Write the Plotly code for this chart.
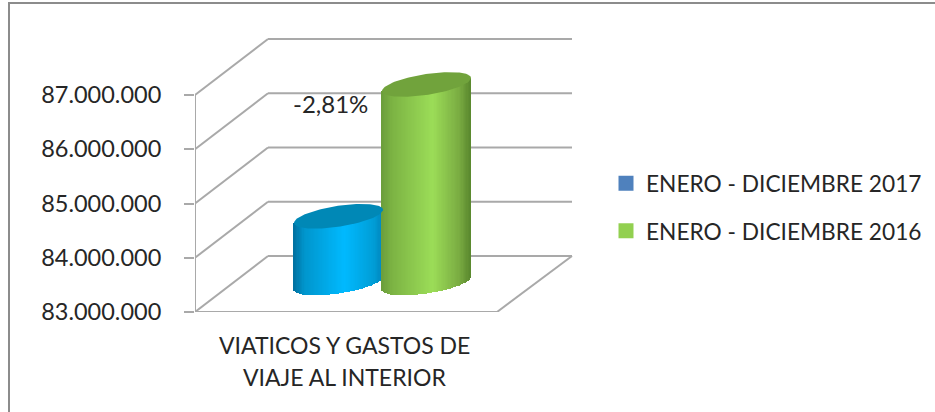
import numpy as np
import plotly.graph_objects as go

# ---------- data ----------
series_names = ["ENERO - DICIEMBRE 2017", "ENERO - DICIEMBRE 2016"]
series_values = [84230000, 86660000]
tick_values = [83000000, 84000000, 85000000, 86000000, 87000000]
category_lines = ["VIATICOS Y GASTOS DE", "VIAJE AL INTERIOR"]
change_label = "-2,81%"

# ---------- geometry / style ----------
W, H = 935, 412
AX_L, AX_R = 195, 575        # plot domain, px
AX_B, AX_T = 312, 30
PX_PER_UNIT = 54.25 / 1e6    # px per value unit
Y0 = tick_values[0]
Y1 = Y0 + (AX_B - AX_T) / PX_PER_UNIT
FRONT_W = 302                # front floor width (x units = px)
DEPTH_X, DEPTH_Y = 73, 56 / PX_PER_UNIT
WALL_R = 377
GRID = "#A9A9A9"
FONT = "Lato"
TEXT = "#262626"

CENTERS = [143.5, 231.5]
A = 44.5
TILT = 6.5 / PX_PER_UNIT
MINOR = 10.5 / PX_PER_UNIT
FLOOR_LIFT = 29 / PX_PER_UNIT   # cylinders stand halfway back on the floor
STRIPS = 70
GRADS = [
    {"pos": [-1, -0.75, 0.15, 0.8, 1], "rgb": [(0, 112, 160), (0, 150, 205), (0, 186, 255), (0, 158, 215), (0, 135, 190)],
     "cap": "#0088B6"},
    {"pos": [-1, -0.75, 0.15, 0.75, 1], "rgb": [(108, 158, 60), (125, 180, 68), (156, 221, 88), (122, 172, 66), (90, 136, 46)],
     "cap": "#71A33C"},
]
LEGEND_COLORS = ["#4F81BD", "#92D050"]

fig = go.Figure()

# cylinders: thin library bars with a shaded gradient, then a cap
for name, val, cx, g in zip(series_names, series_values, CENTERS, GRADS):
    s = np.linspace(-1, 1, STRIPS)
    rel = (s[:-1] + s[1:]) / 2
    curve = np.sqrt(1 - rel ** 2)
    base = Y0 + FLOOR_LIFT + TILT * rel - MINOR * curve
    top = val + FLOOR_LIFT + TILT * rel
    rgb = np.array(g["rgb"], float)
    cols = [f"rgb({int(np.interp(r, g['pos'], rgb[:,0]))},{int(np.interp(r, g['pos'], rgb[:,1]))},{int(np.interp(r, g['pos'], rgb[:,2]))})" for r in rel]
    fig.add_trace(go.Bar(x=cx + A * rel, y=top - base, base=base, width=2 * A / (STRIPS - 1) * 1.25,
                         marker=dict(color=cols, line=dict(width=0)), showlegend=False, hoverinfo="skip"))
    t = np.linspace(0, 2 * np.pi, 120)
    fig.add_trace(go.Scatter(x=cx + A * np.cos(t), y=val + FLOOR_LIFT + TILT * np.cos(t) + MINOR * np.sin(t),
                             mode="lines", fill="toself", fillcolor=g["cap"], line=dict(width=0),
                             showlegend=False, hoverinfo="skip"))

# legend entries
for name, c in zip(series_names, LEGEND_COLORS):
    fig.add_trace(go.Scatter(x=[None], y=[None], mode="markers", name=name, legendgroup=name,
                             marker=dict(symbol="square", size=15, color=c)))

# 3D box lines, placed on the value axis
shapes = []
def seg(x0, y0, x1, y1):
    shapes.append(dict(type="line", xref="x", yref="y", x0=x0, y0=y0, x1=x1, y1=y1, layer="below",
                       line=dict(color=GRID, width=2)))
for v in tick_values:
    seg(0, v, DEPTH_X, v + DEPTH_Y)
    seg(DEPTH_X, v + DEPTH_Y, WALL_R, v + DEPTH_Y)
seg(0, tick_values[0], 0, tick_values[-1])
seg(0, Y0, FRONT_W, Y0)
seg(FRONT_W, Y0, WALL_R, Y0 + DEPTH_Y)
tick_down = 8 / PX_PER_UNIT
seg(0, Y0, 0, Y0 - tick_down)
seg(FRONT_W, Y0, FRONT_W, Y0 - tick_down)
# chart frame
shapes.append(dict(type="rect", xref="paper", yref="paper", x0=9 / W, x1=980 / W, y0=-40 / H, y1=1 - 3 / H,
                   line=dict(color="#8C8C8C", width=2), layer="below"))

fig.update_layout(
    width=W, height=H, margin=dict(l=0, r=0, t=0, b=0, pad=0, autoexpand=False),
    paper_bgcolor="white", plot_bgcolor="rgba(0,0,0,0)",
    separators=",.", barmode="overlay", bargap=0,
    font=dict(family=FONT, size=23, color=TEXT),
    shapes=shapes,
    xaxis=dict(domain=[AX_L / W, AX_R / W], range=[0, AX_R - AX_L], showgrid=False, zeroline=False, automargin=False,
               showticklabels=False, ticks="", showline=False, fixedrange=True),
    yaxis=dict(domain=[1 - AX_B / H, 1 - AX_T / H], range=[Y0, Y1], showgrid=False, zeroline=False, showline=False,
               automargin=False, tickmode="array", tickvals=tick_values, tickformat=",d", ticks="outside", ticklen=10,
               tickwidth=2, tickcolor=GRID, ticklabelstandoff=18, tickfont=dict(family=FONT, size=23.5, color=TEXT),
               fixedrange=True),
    legend=dict(x=606 / W, y=1 - 162 / H, xanchor="left", yanchor="top", tracegroupgap=15,
                font=dict(family=FONT, size=22.7, color=TEXT), itemwidth=30, bgcolor="rgba(0,0,0,0)"),
    annotations=[
        dict(text=change_label, xref="x", yref="y", x=135, y=Y0 + (312 - 104) / PX_PER_UNIT, showarrow=False,
             font=dict(family=FONT, size=24, color=TEXT)),
        dict(text=category_lines[0], xref="x", yref="paper", x=149, y=1 - 345 / H, showarrow=False, yanchor="middle",
             font=dict(family=FONT, size=23, color=TEXT)),
        dict(text=category_lines[1], xref="x", yref="paper", x=149, y=1 - 377 / H, showarrow=False, yanchor="middle",
             font=dict(family=FONT, size=23, color=TEXT)),
    ],
)

fig.write_html("out.html", config=dict(displayModeBar=False),
               post_script="document.body.style.margin='0';document.documentElement.style.overflow='hidden';")
